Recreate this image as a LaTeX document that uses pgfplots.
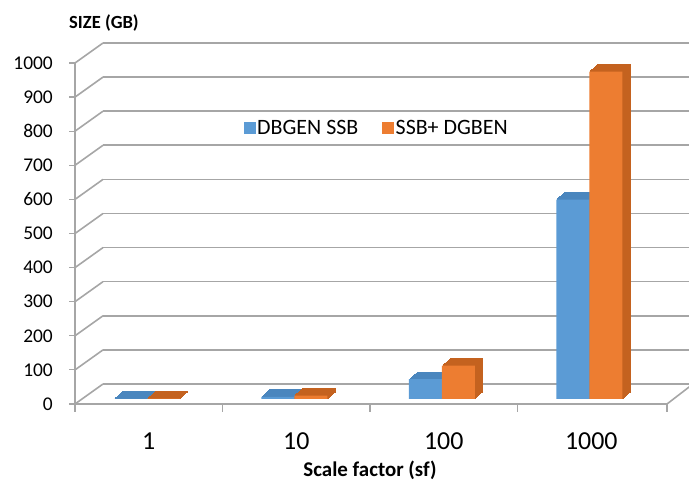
\documentclass[border=0pt]{standalone}
\usepackage{pgfplots}
\pgfplotsset{compat=1.18}
\usepackage{pgfplotstable}
\usepackage{fontspec}
\setmainfont{Carlito}
\definecolor{cblue}{HTML}{5B9BD5}
\definecolor{corange}{HTML}{ED7D31}
\definecolor{cbluedk}{HTML}{4A86BE}
\definecolor{corangedk}{HTML}{C4621F}
\definecolor{gridc}{HTML}{A6A6A6}

\pgfplotstableread{
x blue orange
0 0.6 1
1 6 10
2 58 98
3 585 960
}\datatable

\begin{document}
\begin{tikzpicture}[x=1bp,y=1bp]
\useasboundingbox (0,0) rectangle (689,484);
\begin{axis}[
  at={(103bp,100bp)}, anchor=south west,
  width=590bp, height=341bp, scale only axis, clip=false,
  xmin=-0.5, xmax=3.5, ymin=0, ymax=1000,
  axis line style={draw=none},
  major tick length=0pt,
  ytick={0,100,...,1000},
  xtick={0,1,2,3},
  xticklabels={1,10,100,1000},
  ymajorgrids, grid style={gridc, line width=1.6bp},
  /pgf/number format/assume math mode=true,
  /pgf/number format/1000 sep={},
  yticklabel style={font=\fontsize{19.5}{20}\selectfont, anchor=east, inner sep=0pt, xshift=-50bp, yshift=-20bp},
  xticklabel style={font=\fontsize{26}{28}\selectfont, anchor=center, inner sep=0pt, xshift=-28bp, yshift=-57bp},
  legend style={at={(0.464,0.751)}, anchor=center, draw=none, fill=none,
    font=\fontsize{22}{24}\selectfont,
    /tikz/every even column/.append style={column sep=22bp}},
  legend columns=2,
]
% left wall diagonals and floor
\pgfplotsinvokeforeach{0,100,...,1000}{
  \draw[gridc, line width=1.6bp] (axis cs:-0.5,#1) -- ([xshift=-28bp,yshift=-20bp]axis cs:-0.5,#1);
  \draw[gridc, line width=1.2bp] ([xshift=-28bp,yshift=-20bp]axis cs:-0.5,#1) -- ([xshift=-34bp,yshift=-20bp]axis cs:-0.5,#1);
}
\draw[gridc, line width=1.6bp] ([xshift=-28bp,yshift=-20bp]axis cs:-0.5,0) -- ([xshift=-28bp,yshift=-20bp]axis cs:-0.5,1000);
\draw[gridc, line width=1.6bp] ([xshift=-28bp,yshift=-20bp]axis cs:-0.5,0) -- ([xshift=-26bp,yshift=-20bp]axis cs:3.5,0) -- (axis cs:3.5,0);
\pgfplotsinvokeforeach{-0.5,0.5,1.5,2.5}{
  \draw[gridc, line width=1.2bp] ([xshift=-28bp,yshift=-20bp]axis cs:#1,0) -- ([xshift=-28bp,yshift=-28bp]axis cs:#1,0);
}
\draw[gridc, line width=1.2bp] ([xshift=-26bp,yshift=-20bp]axis cs:3.5,0) -- ([xshift=-26bp,yshift=-28bp]axis cs:3.5,0);
% bar depth (top/side), drawn as stacked offset copies
\pgfplotsinvokeforeach{8,7,6,5,4,3,2,1}{
  \addplot[ybar, bar width=32.5bp, bar shift=-16.5bp, fill=cbluedk, draw=cbluedk, line width=0.9bp, xshift={(-30+#1)*1bp}, yshift={(-15+0.875*#1)*1bp}, forget plot] table[x=x,y=blue]{\datatable};
}
\pgfplotsinvokeforeach{8,7,6,5,4,3,2,1}{
  \addplot[ybar, bar width=32.5bp, bar shift=16.5bp, fill=corangedk, draw=corangedk, line width=0.9bp, xshift={(-30+#1)*1bp}, yshift={(-15+0.875*#1)*1bp}, forget plot] table[x=x,y=orange]{\datatable};
}
% bar fronts
\addplot[ybar, bar width=33bp, bar shift=-16.5bp, fill=cblue, draw=none, xshift=-30bp, yshift=-15bp, forget plot] table[x=x,y=blue]{\datatable};
\addplot[ybar, bar width=33bp, bar shift=16.5bp, fill=corange, draw=none, xshift=-30bp, yshift=-15bp, forget plot] table[x=x,y=orange]{\datatable};
\addlegendimage{legend image code/.code={\fill[cblue] (0bp,-5.5bp) rectangle (11bp,5.5bp);}}
\addlegendentry{DBGEN SSB}
\addlegendimage{legend image code/.code={\fill[corange] (0bp,-5.5bp) rectangle (11bp,5.5bp);}}
\addlegendentry{SSB+ DGBEN}
\end{axis}
\node[font=\bfseries\fontsize{18.6}{20}\selectfont, anchor=west, inner sep=0pt] at (69,461) {SIZE (GB)};
\node[font=\bfseries\fontsize{21}{23}\selectfont, inner sep=0pt] at (370,14) {Scale factor (sf)};
\end{tikzpicture}
\end{document}
